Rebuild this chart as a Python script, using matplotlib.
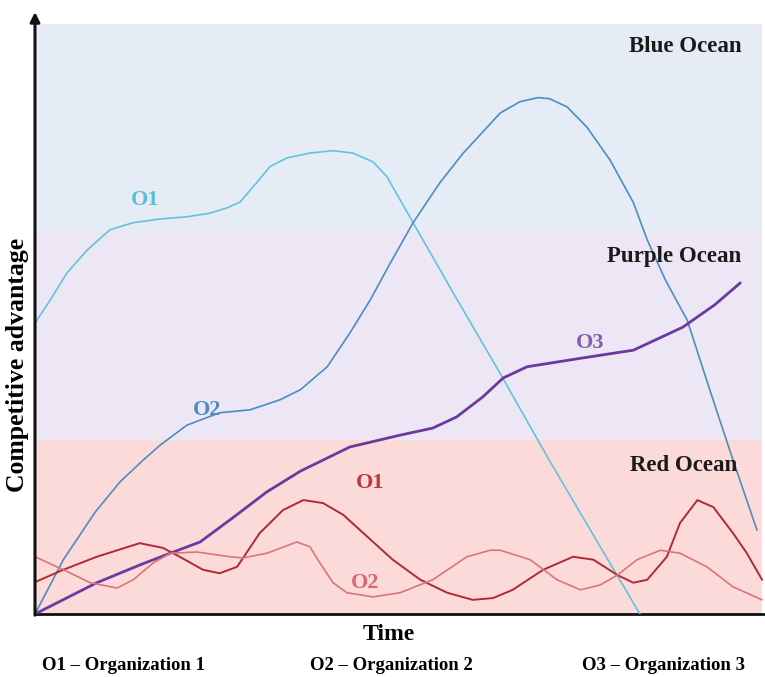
import matplotlib.pyplot as plt

# band limits (competitive advantage, 0-100 scale)
band_names = ['Red Ocean', 'Purple Ocean', 'Blue Ocean']
band_low = [0, 29.5, 64.7]
band_high = [29.5, 64.7, 100]
band_colors = ['#fcdada', '#ede6f4', '#e6ecf6']

# O1 (new entrant) - light blue
o1_blue_t = [0, 2.1, 4.4, 7.2, 10.3, 13.5, 17.0, 20.9, 24.0, 26.4, 28.2, 30.5, 32.3, 34.7, 37.8, 41.0,
             43.7, 46.5, 48.4, 50.2, 52.0, 54.7, 57.1, 64.0, 70.8, 83.2]
o1_blue_v = [49.3, 53.2, 57.8, 61.7, 65.1, 66.3, 66.9, 67.3, 67.9, 68.8, 69.8, 73.1, 75.8, 77.3, 78.1, 78.5,
             78.1, 76.6, 74.1, 70.2, 66.3, 60.5, 55.3, 40.7, 25.9, 0]

# O2 - dark blue
o2_blue_t = [0, 3.9, 8.3, 11.7, 14.9, 17.2, 20.9, 25.4, 29.6, 33.7, 36.5, 40.2, 43.3, 46.1,
             48.8, 52.0, 55.7, 58.9, 64.0, 66.7, 69.2, 70.8, 73.2, 75.9, 79.1, 82.3, 84.2,
             86.7, 89.7, 92.8, 96.0, 99.3]
o2_blue_v = [0, 9.2, 17.3, 22.4, 26.1, 28.6, 32.0, 34.1, 34.6, 36.3, 38.0, 41.9, 47.6, 53.2,
             59.3, 66.3, 73.1, 78.1, 84.9, 86.8, 87.5, 87.3, 85.9, 82.5, 76.9, 69.7, 63.4,
             56.6, 49.8, 38.0, 26.1, 14.2]

# O3 - purple
o3_t = [0, 8.5, 14.4, 18.6, 22.7, 27.2, 31.9, 36.5, 43.3, 50.2, 54.7, 58.0, 61.6, 64.4,
        67.7, 70.8, 75.4, 82.3, 89.1, 93.5, 97.0]
o3_v = [0, 5.3, 8.3, 10.3, 12.2, 16.3, 20.7, 24.2, 28.3, 30.3, 31.5, 33.4, 36.8, 40.0,
        41.9, 42.5, 43.4, 44.7, 48.6, 52.4, 56.1]

# O1 - dark red
o1_red_t = [0, 3.9, 8.5, 14.4, 17.6, 19.9, 23.1, 25.4, 27.8, 30.9, 34.1, 36.9, 39.6, 42.4,
            45.7, 49.2, 53.0, 56.7, 60.2, 63.0, 65.7, 69.9, 74.0, 76.8, 80.1, 82.3, 84.2,
            86.9, 88.7, 91.1, 93.3, 96.0, 97.9, 100]
o1_red_v = [5.4, 7.5, 9.7, 12.0, 11.2, 9.7, 7.5, 6.9, 8.0, 13.7, 17.6, 19.3, 18.8, 16.8,
            13.1, 9.2, 5.8, 3.6, 2.4, 2.7, 4.1, 7.5, 9.7, 9.2, 6.6, 5.3, 5.8,
            9.7, 15.4, 19.3, 18.1, 13.7, 10.3, 5.8]

# O2 - light red
o2_red_t = [0, 3.9, 7.6, 11.3, 13.5, 16.2, 18.6, 22.3, 26.8, 28.6, 31.9, 36.0, 37.8, 39.2,
            41.0, 42.9, 46.5, 50.2, 54.7, 59.4, 62.6, 64.0, 68.1, 71.8, 75.0, 77.7, 80.1,
            82.8, 86.0, 88.7, 92.4, 96.0, 100]
o2_red_v = [9.7, 7.5, 5.3, 4.4, 5.8, 8.6, 10.3, 10.5, 9.7, 9.5, 10.3, 12.2, 11.4, 8.6,
            5.3, 3.6, 2.9, 3.6, 5.8, 9.7, 10.8, 10.8, 9.2, 5.8, 4.1, 4.9, 6.6,
            9.2, 10.8, 10.3, 8.0, 4.6, 2.4]

legend_items = ['O1 \u2013 Organization 1', 'O2 \u2013 Organization 2', 'O3 \u2013 Organization 3']

plt.rcParams['font.family'] = 'Liberation Serif'
plt.rcParams['font.weight'] = 'bold'

fig = plt.figure(figsize=(7.65, 6.77), dpi=100)
ax = fig.add_axes([35 / 765, 63 / 677, 730 / 765, 602 / 677])
ax.set_xlim(0, 100.4)
ax.set_ylim(0, 102)

# ocean bands
for lo, hi, c in zip(band_low, band_high, band_colors):
    ax.fill_between([0, 100], lo, hi, color=c, lw=0, zorder=0)

line_kw = dict(solid_joinstyle='round', solid_capstyle='round', zorder=3)
ax.plot(o1_blue_t, o1_blue_v, color='#62c3de', lw=1.2, **line_kw)
ax.plot(o2_blue_t, o2_blue_v, color='#4b8dbf', lw=1.2, **line_kw)
ax.plot(o3_t, o3_v, color='#6a3a9e', lw=2.0, **line_kw)
ax.plot(o1_red_t, o1_red_v, color='#b02a34', lw=1.4, **line_kw)
ax.plot(o2_red_t, o2_red_v, color='#d8767a', lw=1.2, **line_kw)

# ocean labels
ax.text(97.2, 96.1, band_names[2], ha='right', va='center', fontsize=16.5, color='#1a1a1a')
ax.text(97.2, 60.5, band_names[1], ha='right', va='center', fontsize=16.5, color='#1a1a1a')
ax.text(96.6, 25.1, band_names[0], ha='right', va='center', fontsize=16.5, color='#1a1a1a')

# curve labels
ax.text(15.1, 70.2, 'O1', ha='center', va='center', fontsize=16, color='#5bbfdc')
ax.text(23.7, 34.6, 'O2', ha='center', va='center', fontsize=16, color='#4b8dbf')
ax.text(76.3, 45.9, 'O3', ha='center', va='center', fontsize=16, color='#8a5cb0')
ax.text(46.1, 22.2, 'O1', ha='center', va='center', fontsize=16, color='#b53a42')
ax.text(45.4, 5.3, 'O2', ha='center', va='center', fontsize=16, color='#d86a6e')

# axes
for s in ['top', 'right', 'left']:
    ax.spines[s].set_visible(False)
ax.spines['bottom'].set_linewidth(2)
ax.spines['bottom'].set_color('#111111')
ax.set_xticks([])
ax.set_yticks([])
ax.annotate('', xy=(0, 102), xytext=(0, -0.2),
            arrowprops=dict(arrowstyle='-|>', color='#111111', lw=2.2,
                            mutation_scale=14, shrinkA=0, shrinkB=0),
            annotation_clip=False)

fig.text(18 / 765, 1 - 365 / 677, 'Competitive advantage', rotation=90,
         ha='center', va='center', fontsize=18.5)
fig.text(389 / 765, 1 - 634 / 677, 'Time', ha='center', va='center', fontsize=17)
for cx, lab in zip([123, 391, 663], legend_items):
    fig.text(cx / 765, 1 - 666 / 677, lab, ha='center', va='center', fontsize=13.5)

fig.savefig('out.png', dpi=100)
